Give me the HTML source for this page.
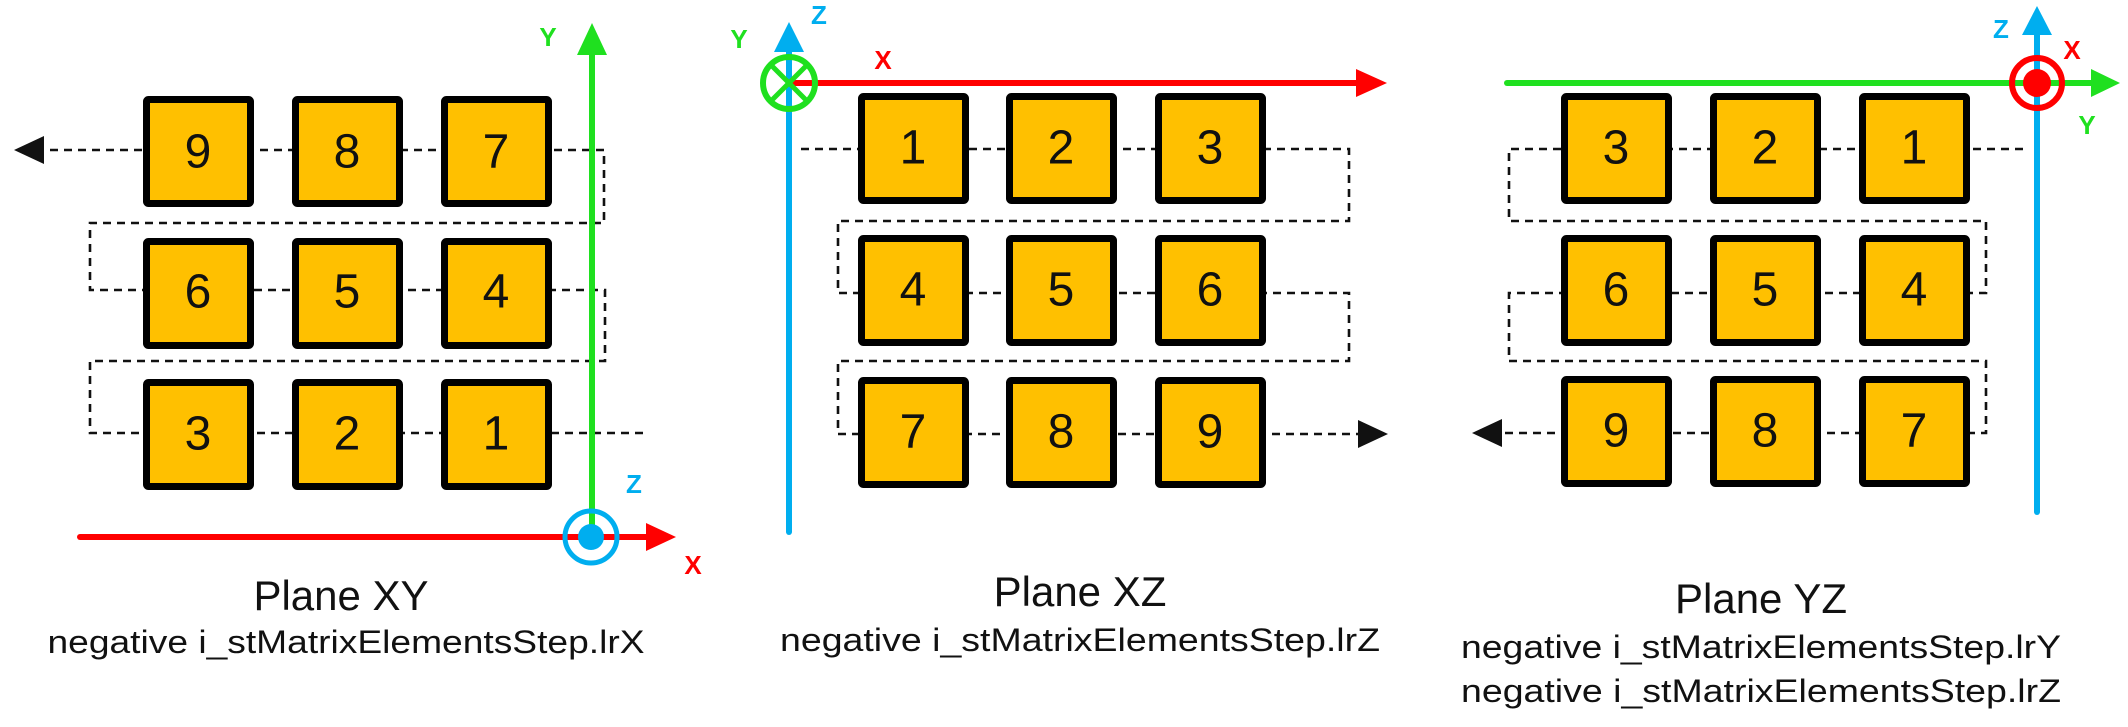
<!DOCTYPE html>
<html><head><meta charset="utf-8"><style>
html,body{margin:0;padding:0;background:#fff;}
svg{display:block;}
text{font-family:"Liberation Sans",Arial,sans-serif;}
.n{font-size:48px;text-anchor:middle;dominant-baseline:central;fill:#111;}
.d{fill:none;stroke:#111;stroke-width:2.6;stroke-dasharray:8 6;}
.b{fill:#FFC000;stroke:#000;stroke-width:7;}
.t{font-size:42px;text-anchor:middle;fill:#111;}
.s{font-size:32px;text-anchor:middle;fill:#111;}
.ax{font-size:26px;font-weight:bold;text-anchor:middle;dominant-baseline:central;}
</style></head><body>
<svg width="2128" height="727" viewBox="0 0 2128 727" xmlns="http://www.w3.org/2000/svg">
<!-- Panel XY -->
<polyline class="d" points="643,433 90,433 90,361 605,361 605,290 90,290 90,223 604,223 604,150 40,150"/>
<polygon points="14,150 44,136 44,164" fill="#111"/>
<g>
<rect class="b" x="146.5" y="99.5" width="104" height="104" rx="2"/><text class="n" x="198" y="152">9</text>
<rect class="b" x="295.5" y="99.5" width="104" height="104" rx="2"/><text class="n" x="347" y="152">8</text>
<rect class="b" x="444.5" y="99.5" width="104" height="104" rx="2"/><text class="n" x="496" y="152">7</text>
<rect class="b" x="146.5" y="241.5" width="104" height="104" rx="2"/><text class="n" x="198" y="292">6</text>
<rect class="b" x="295.5" y="241.5" width="104" height="104" rx="2"/><text class="n" x="347" y="292">5</text>
<rect class="b" x="444.5" y="241.5" width="104" height="104" rx="2"/><text class="n" x="496" y="292">4</text>
<rect class="b" x="146.5" y="382.5" width="104" height="104" rx="2"/><text class="n" x="198" y="434">3</text>
<rect class="b" x="295.5" y="382.5" width="104" height="104" rx="2"/><text class="n" x="347" y="434">2</text>
<rect class="b" x="444.5" y="382.5" width="104" height="104" rx="2"/><text class="n" x="496" y="434">1</text>
</g>
<line x1="80" y1="537" x2="648" y2="537" stroke="#f00" stroke-width="6" stroke-linecap="round"/>
<polygon points="676,537 646,523 646,551" fill="#f00"/>
<line x1="592" y1="530" x2="592" y2="52" stroke="#1fe01f" stroke-width="6"/>
<polygon points="592,23 577,55 607,55" fill="#1fe01f"/>
<circle cx="591" cy="537" r="26" fill="none" stroke="#00aeef" stroke-width="5"/>
<circle cx="591" cy="537" r="13" fill="#00aeef"/>
<text class="ax" x="548" y="37" fill="#1fe01f">Y</text>
<text class="ax" x="634" y="484" fill="#00aeef">Z</text>
<text class="ax" x="693" y="565" fill="#f00">X</text>
<text class="t" x="341" y="610">Plane XY</text>
<text class="s" x="346" y="653" textLength="597" lengthAdjust="spacingAndGlyphs">negative i_stMatrixElementsStep.lrX</text>

<!-- Panel XZ -->
<polyline class="d" points="801,149 1349,149 1349,221 838,221 838,293 1349,293 1349,361 838,361 838,434 1362,434"/>
<polygon points="1388,434 1358,420 1358,448" fill="#111"/>
<rect class="b" x="861.5" y="96.5" width="104" height="104" rx="2"/><text class="n" x="913" y="148">1</text>
<rect class="b" x="1009.5" y="96.5" width="104" height="104" rx="2"/><text class="n" x="1061" y="148">2</text>
<rect class="b" x="1158.5" y="96.5" width="104" height="104" rx="2"/><text class="n" x="1210" y="148">3</text>
<rect class="b" x="861.5" y="238.5" width="104" height="104" rx="2"/><text class="n" x="913" y="290">4</text>
<rect class="b" x="1009.5" y="238.5" width="104" height="104" rx="2"/><text class="n" x="1061" y="290">5</text>
<rect class="b" x="1158.5" y="238.5" width="104" height="104" rx="2"/><text class="n" x="1210" y="290">6</text>
<rect class="b" x="861.5" y="380.5" width="104" height="104" rx="2"/><text class="n" x="913" y="432">7</text>
<rect class="b" x="1009.5" y="380.5" width="104" height="104" rx="2"/><text class="n" x="1061" y="432">8</text>
<rect class="b" x="1158.5" y="380.5" width="104" height="104" rx="2"/><text class="n" x="1210" y="432">9</text>
<line x1="789" y1="532" x2="789" y2="50" stroke="#00aeef" stroke-width="6" stroke-linecap="round"/>
<polygon points="789,22 774,52 804,52" fill="#00aeef"/>
<line x1="789" y1="83" x2="1358" y2="83" stroke="#f00" stroke-width="6"/>
<polygon points="1387,83 1356,69 1356,97" fill="#f00"/>
<circle cx="789" cy="83" r="26" fill="none" stroke="#1fe01f" stroke-width="6"/>
<line x1="771" y1="65" x2="807" y2="101" stroke="#1fe01f" stroke-width="5"/>
<line x1="807" y1="65" x2="771" y2="101" stroke="#1fe01f" stroke-width="5"/>
<text class="ax" x="739" y="39" fill="#1fe01f">Y</text>
<text class="ax" x="819" y="15" fill="#00aeef">Z</text>
<text class="ax" x="883" y="60" fill="#f00">X</text>
<text class="t" x="1080" y="606">Plane XZ</text>
<text class="s" x="1080" y="651" textLength="600" lengthAdjust="spacingAndGlyphs">negative i_stMatrixElementsStep.lrZ</text>

<!-- Panel YZ -->
<polyline class="d" points="2023,149 1509,149 1509,221 1986,221 1986,293 1509,293 1509,361 1986,361 1986,433 1500,433"/>
<polygon points="1472,433 1502,419 1502,447" fill="#111"/>
<rect class="b" x="1564.5" y="96.5" width="104" height="104" rx="2"/><text class="n" x="1616" y="148">3</text>
<rect class="b" x="1713.5" y="96.5" width="104" height="104" rx="2"/><text class="n" x="1765" y="148">2</text>
<rect class="b" x="1862.5" y="96.5" width="104" height="104" rx="2"/><text class="n" x="1914" y="148">1</text>
<rect class="b" x="1564.5" y="238.5" width="104" height="104" rx="2"/><text class="n" x="1616" y="290">6</text>
<rect class="b" x="1713.5" y="238.5" width="104" height="104" rx="2"/><text class="n" x="1765" y="290">5</text>
<rect class="b" x="1862.5" y="238.5" width="104" height="104" rx="2"/><text class="n" x="1914" y="290">4</text>
<rect class="b" x="1564.5" y="379.5" width="104" height="104" rx="2"/><text class="n" x="1616" y="431">9</text>
<rect class="b" x="1713.5" y="379.5" width="104" height="104" rx="2"/><text class="n" x="1765" y="431">8</text>
<rect class="b" x="1862.5" y="379.5" width="104" height="104" rx="2"/><text class="n" x="1914" y="431">7</text>
<line x1="1507" y1="83" x2="2093" y2="83" stroke="#1fe01f" stroke-width="6" stroke-linecap="round"/>
<polygon points="2120,83 2091,69 2091,97" fill="#1fe01f"/>
<line x1="2037" y1="512" x2="2037" y2="33" stroke="#00aeef" stroke-width="6" stroke-linecap="round"/>
<polygon points="2037,6 2022,35 2052,35" fill="#00aeef"/>
<circle cx="2037" cy="83" r="25" fill="none" stroke="#f00" stroke-width="6"/>
<circle cx="2037" cy="83" r="14" fill="#f00"/>
<text class="ax" x="2001" y="29" fill="#00aeef">Z</text>
<text class="ax" x="2072" y="50" fill="#f00">X</text>
<text class="ax" x="2087" y="125" fill="#1fe01f">Y</text>
<text class="t" x="1761" y="613">Plane YZ</text>
<text class="s" x="1761" y="658" textLength="600" lengthAdjust="spacingAndGlyphs">negative i_stMatrixElementsStep.lrY</text>
<text class="s" x="1761" y="702" textLength="600" lengthAdjust="spacingAndGlyphs">negative i_stMatrixElementsStep.lrZ</text>
</svg>
</body></html>
